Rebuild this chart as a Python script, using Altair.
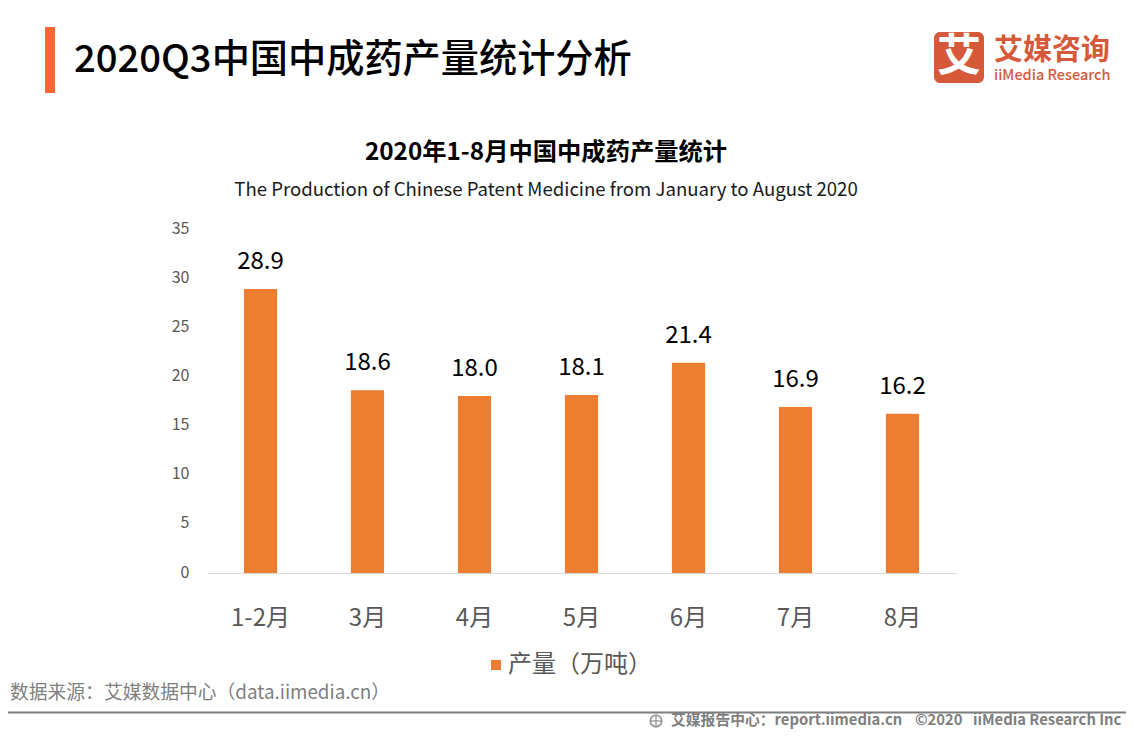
import altair as alt
import pandas as pd

months = ["1-2月", "3月", "4月", "5月", "6月", "7月", "8月"]
output = [28.9, 18.6, 18.0, 18.1, 21.4, 16.9, 16.2]
series = "产量（万吨）"

FONT = "Noto Sans CJK SC"
ORANGE = "#ED7D31"
GREY = "#7F7F7F"
LOGO = "#D65A3A"
OX, OY = 207, 229  # plot-area origin on the page

df = pd.DataFrame({"month": months, "value": output, "series": [series] * len(months)})
blank = alt.Data(values=[{"k": 1}])


def label(text, x, y, size, color="#000000", weight=400, align="left"):
    return alt.Chart(blank).mark_text(
        font=FONT, fontSize=size, fontWeight=weight, align=align, baseline="middle", color=color
    ).encode(x=alt.value(x - OX), y=alt.value(y - OY), text=alt.value(text))


def box(x, x2, y, y2, color, radius=0):
    return alt.Chart(blank).mark_rect(color=color, cornerRadius=radius).encode(
        x=alt.value(x - OX), x2=alt.value(x2 - OX), y=alt.value(y - OY), y2=alt.value(y2 - OY)
    )


x_enc = alt.X(
    "month:N", sort=months, title=None,
    scale=alt.Scale(paddingInner=0.69, paddingOuter=0.345),
    axis=alt.Axis(labelAngle=0, labelFont=FONT, labelFontSize=24, labelColor="#595959", labelPadding=33,
                  ticks=False, domainColor="#D9D9D9", domainWidth=1, grid=False),
)
y_enc = alt.Y(
    "value:Q", title=None, scale=alt.Scale(domain=[0, 35]),
    axis=alt.Axis(values=[0, 5, 10, 15, 20, 25, 30, 35], labelFont=FONT, labelFontSize=16, labelColor="#595959",
                  labelPadding=18, labelOffset=-1, ticks=False, domain=False, grid=False),
)

bars = alt.Chart(df).mark_bar().encode(
    x=x_enc, y=y_enc,
    color=alt.Color("series:N", scale=alt.Scale(range=[ORANGE]), legend=alt.Legend(
        orient="none", legendX=277, legendY=653 - OY, title=None, symbolType="square", symbolSize=100,
        labelFont=FONT, labelFontSize=24, labelColor="#595959", labelOffset=0)),
)
values = alt.Chart(df).mark_text(font=FONT, fontSize=24, color="#000000", baseline="bottom", dy=-15).encode(
    x=alt.X("month:N", sort=months), y="value:Q", text=alt.Text("value:Q", format=".1f")
)

layers = [
    box(45, 55, 27, 93, "#FF6633"),
    label("2020Q3中国中成药产量统计分析", 74, 60.5, 38.2, weight=500),
    box(934, 984, 32, 83, LOGO, 6),
    label("艾", 959, 58, 44, "#FFFFFF", 700, "center"),
    label("艾媒咨询", 994, 51, 29, LOGO, 700),
    label("iiMedia Research", 994, 76, 14.5, LOGO, 500),
    label("2020年1-8月中国中成药产量统计", 546, 152.5, 24.3, weight=700, align="center"),
    label("The Production of Chinese Patent Medicine from January to August 2020", 546, 190, 18.6, "#1A1A1A", align="center"),
    bars,
    values,
    label("数据来源：艾媒数据中心（data.iimedia.cn）", 10, 693, 18.8, GREY),
    box(0, 1134, 711.5, 713.5, GREY),
    alt.Chart(blank).mark_point(shape="circle", size=130, filled=False, color=GREY, strokeWidth=2).encode(
        x=alt.value(656 - OX), y=alt.value(721 - OY)),
    box(650, 662, 720.5, 721.5, GREY),
    box(655.5, 656.5, 715, 727, GREY),
    label("艾媒报告中心：report.iimedia.cn", 671, 720.5, 14.8, GREY, 700),
    label("©2020", 915, 720.5, 14.8, GREY, 700),
    label("iiMedia Research  Inc", 973, 720.5, 14.8, GREY, 700),
]

chart = alt.layer(*layers).properties(
    width=749, height=344,
    autosize=alt.AutoSizeParams(type="none"),
    padding={"left": OX - 8, "top": OY - 8, "right": 1118 - (OX - 8) - 749, "bottom": 721 - (OY - 8) - 344},
    background="#FFFFFF",
).configure_view(stroke=None)

chart.save("out.html", embed_options={"renderer": "svg", "actions": False})
